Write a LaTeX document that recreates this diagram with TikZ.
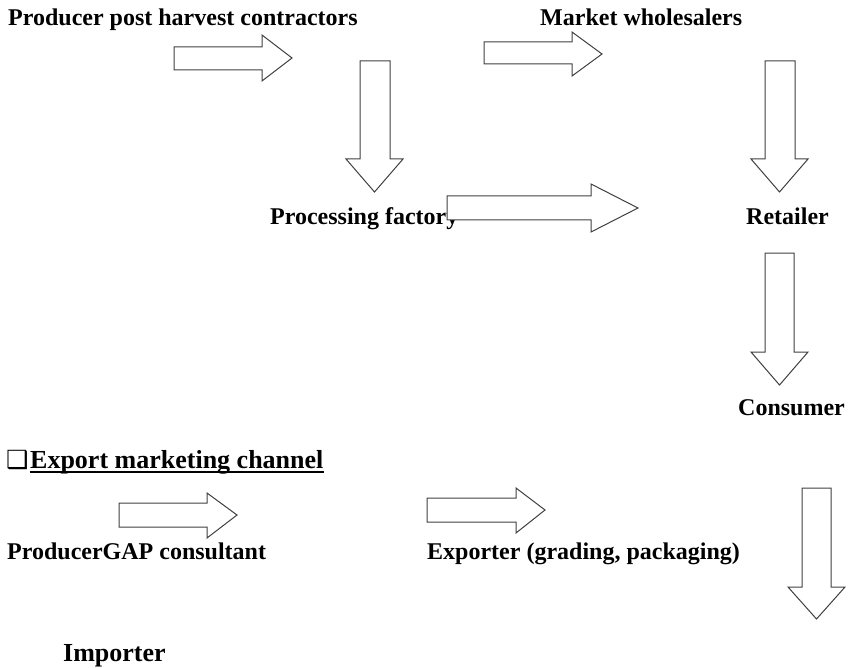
\documentclass[tikz,border=0pt]{standalone}
\usepackage{fontspec}
\setmainfont{Liberation Serif}
\newfontfamily\symfont{DejaVu Sans}
\begin{document}
\begin{tikzpicture}[x=1pt,y=-1pt,
  lbl/.style={anchor=base west,inner sep=0pt,font=\fontsize{24}{28}\selectfont\bfseries,text=black},
  blockarrow/.style={draw=black!75,fill=white,line width=1pt,line join=miter}]
\useasboundingbox (0,0) rectangle (850,668);
% labels
\node[lbl] (prod) at (8,26) {Producer post harvest contractors};
\node[lbl] (market) at (540,26) {Market wholesalers};
\node[lbl] (factory) at (270,224) {Processing factory};
\node[lbl] (retailer) at (746,224) {Retailer};
\node[lbl] (consumer) at (738,415) {Consumer};
\node[lbl,font=\symfont\fontsize{25}{28}\selectfont] (exportbox) at (6,468) {❑};
\node[lbl,font=\fontsize{26}{30}\selectfont\bfseries] (export) at (30,468) {Export marketing channel};
\draw[line width=2pt,black] ([yshift=-4pt]export.base west) -- ([yshift=-4pt]export.base east);
\node[lbl] (prodgap) at (7,559) {ProducerGAP consultant};
\node[lbl] (exporter) at (427,559) {Exporter (grading, packaging)};
\node[lbl,font=\fontsize{26}{30}\selectfont\bfseries] (importer) at (63,661) {Importer};
% right block arrows
\draw[blockarrow] (174,47) -- (262,47) -- (262,35) -- (292,58) -- (262,81) -- (262,70) -- (174,70) -- cycle;
\draw[blockarrow] (484,42) -- (572,42) -- (572,32) -- (602,54) -- (572,76) -- (572,64) -- (484,64) -- cycle;
\draw[blockarrow] (447,196) -- (591,196) -- (591,184) -- (638,208) -- (591,232) -- (591,220) -- (447,220) -- cycle;
\draw[blockarrow] (119,503) -- (207,503) -- (207,493) -- (237,515) -- (207,538) -- (207,527) -- (119,527) -- cycle;
\draw[blockarrow] (427,498) -- (516,498) -- (516,488) -- (545,510) -- (516,533) -- (516,522) -- (427,522) -- cycle;
% down block arrows
\draw[blockarrow] (360,61) -- (390,61) -- (390,159) -- (403,159) -- (374.5,192) -- (346,159) -- (360,159) -- cycle;
\draw[blockarrow] (765,61) -- (795,61) -- (795,159) -- (808,159) -- (779.5,192) -- (751,159) -- (765,159) -- cycle;
\draw[blockarrow] (765,253) -- (794,253) -- (794,352) -- (808,352) -- (779.5,385) -- (751,352) -- (765,352) -- cycle;
\draw[blockarrow] (802,488) -- (831,488) -- (831,587) -- (845,587) -- (816.5,619) -- (788,587) -- (802,587) -- cycle;
\end{tikzpicture}
\end{document}
